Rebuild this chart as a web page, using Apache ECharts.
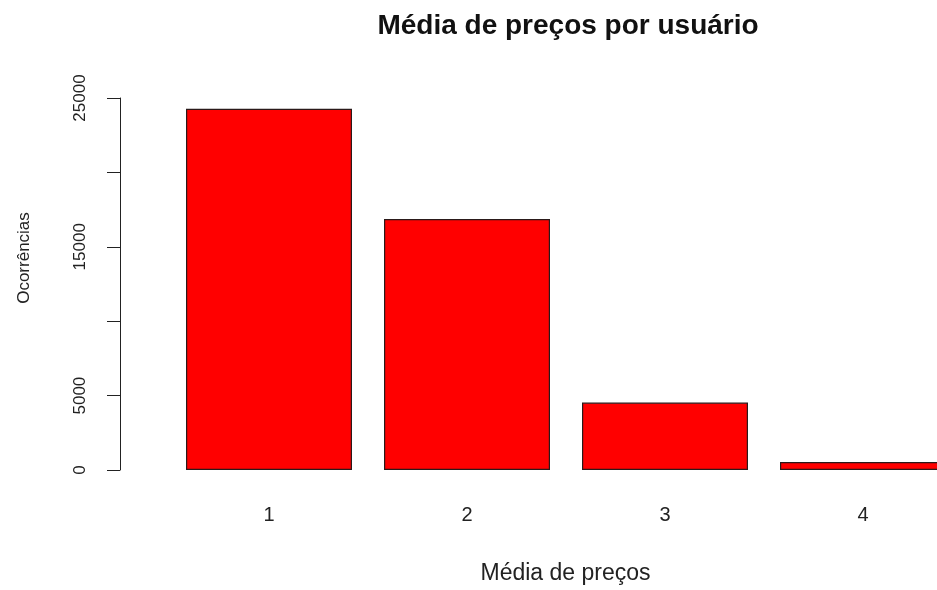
<!DOCTYPE html>
<html>
<head>
<meta charset="utf-8">
<script src="https://cdn.jsdelivr.net/npm/echarts@6/dist/echarts.min.js"></script>
<style>
  html, body { margin: 0; padding: 0; background: #fff; }
  #chart { width: 937px; height: 590px; }
</style>
</head>
<body>
<div id="chart"></div>
<script>
// médias de preço (categorias) e número de ocorrências
const categories = [1, 2, 3, 4]
const ocorrencias = [24270, 16870, 4530, 530]
const yTicks = [0, 5000, 10000, 15000, 20000, 25000]
const shownTicks = [0, 5000, 15000, 25000]   // R omite os rótulos que se sobrepõem

const font = '"Liberation Sans", Arial, sans-serif'
const chart = echarts.init(document.getElementById('chart'))

// o gráfico original está cortado à direita: a última barra passa da borda,
// por isso o eixo x é numérico e termina antes do fim da barra 4
const band = 198
const plotLeft = 170
const plotWidth = 937 - plotLeft

chart.setOption({
  animation: false,
  title: {
    text: 'Média de preços por usuário',
    left: 563,
    top: 7,
    textAlign: 'center',
    textStyle: { fontFamily: font, fontSize: 28, fontWeight: 'bold', color: '#111' },
  },
  grid: { left: plotLeft, top: 98, width: plotWidth, height: 375 },
  xAxis: {
    type: 'value',
    min: 0.5,
    max: 0.5 + plotWidth / band,
    splitLine: { show: false },
    axisLine: { show: false },
    axisTick: { show: false },
    axisLabel: {
      customValues: categories,
      margin: 35,
      fontFamily: font,
      fontSize: 20,
      color: '#222',
    },
    name: 'Média de preços',
    nameLocation: 'middle',
    nameGap: 92,
    // centra o título do eixo como no original (região de plotagem mais larga)
    nameTextStyle: { fontFamily: font, fontSize: 23, color: '#222', padding: [0, 0, 0, 24] },
  },
  yAxis: {
    type: 'value',
    min: yTicks[0],
    max: yTicks[yTicks.length - 1],
    interval: 5000,
    offset: 50,
    splitLine: { show: false },
    axisLine: { show: true, lineStyle: { color: '#222', width: 1 } },
    axisTick: { show: true, length: 13, lineStyle: { color: '#222' } },
    axisLabel: {
      rotate: 90,
      margin: 31,
      fontFamily: font,
      fontSize: 17,
      color: '#222',
      formatter: v => (shownTicks.includes(v) ? String(v) : ''),
    },
    name: 'Ocorrências',
    nameLocation: 'middle',
    nameGap: 87,
    nameTextStyle: { fontFamily: font, fontSize: 17, color: '#222', padding: [0, 0, 0, 52] },
  },
  series: [{
    type: 'bar',
    data: categories.map((c, i) => [c, ocorrencias[i]]),
    barWidth: 166,
    clip: true,
    itemStyle: { color: '#ff0000', borderColor: '#2a1a1a', borderWidth: 1.2 },
  }],
})
</script>
</body>
</html>
